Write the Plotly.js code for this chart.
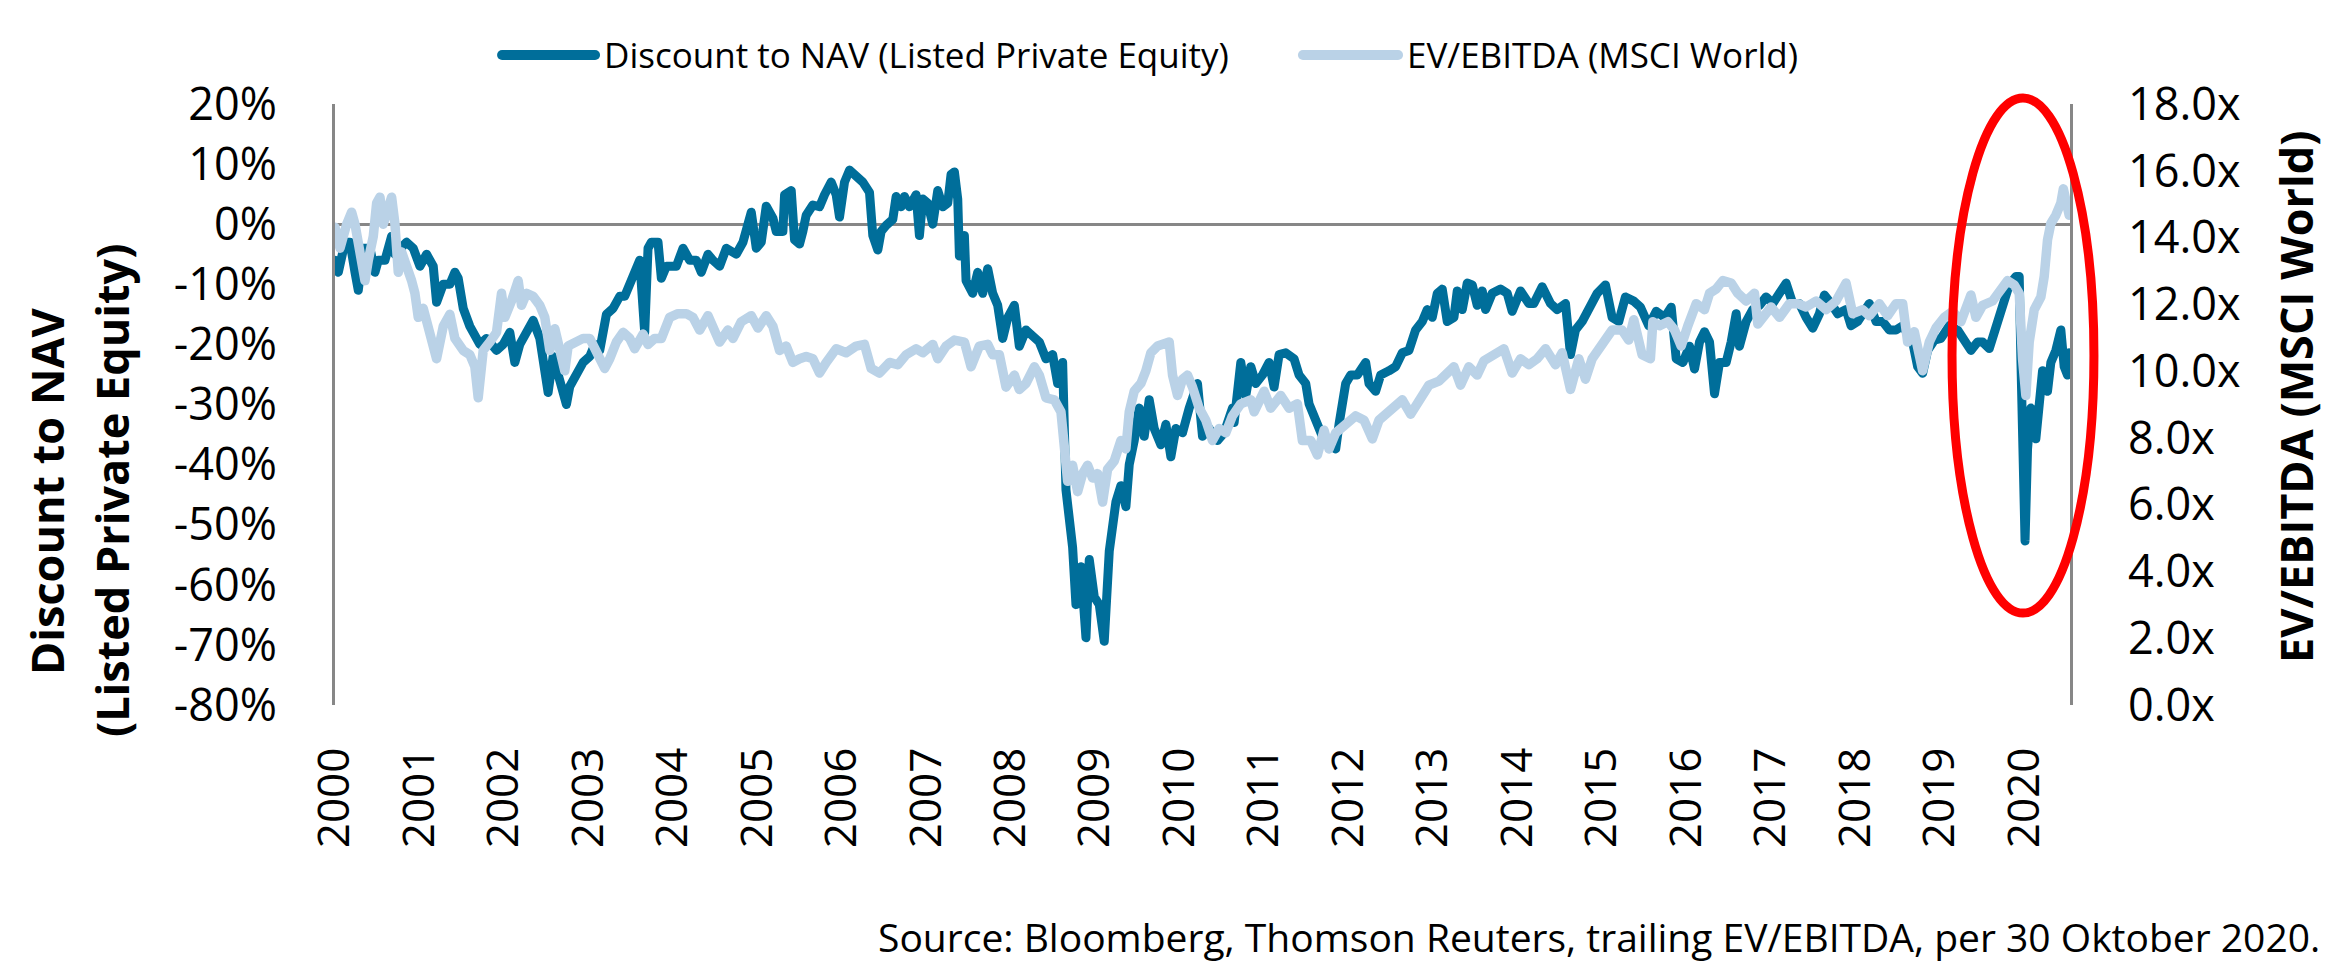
<!DOCTYPE html>
<html>
<head>
<meta charset="utf-8">
<script src="https://cdn.plot.ly/plotly-3.0.1.min.js"></script>
<style>
  html, body { margin: 0; padding: 0; background: #ffffff; }
  #chart { width: 2332px; height: 970px; }
  #chart .scatterlayer path.js-line { stroke-linejoin: round; stroke-linecap: round; }
  #chart .shapelayer path { stroke-linecap: round; }
</style>
</head>
<body>
<div id="chart"></div>
<script>
// ---------- DATA ----------
// Discount to NAV (Listed Private Equity), in %, left axis
const discountDates = [
  2000.00,2000.04,2000.12,2000.18,2000.24,2000.28,2000.34,2000.42,2000.48,2000.52,2000.60,2000.68,2000.72,2000.86,2000.94,
  2001.02,2001.10,2001.18,2001.22,2001.30,2001.38,2001.44,2001.48,2001.54,2001.62,2001.70,2001.74,2001.82,2001.94,
  2002.02,2002.10,2002.16,2002.22,2002.30,2002.38,2002.46,2002.52,2002.56,2002.62,2002.68,2002.74,2002.78,2002.82,2002.90,2002.98,
  2003.06,2003.12,2003.18,2003.26,2003.34,2003.42,2003.48,2003.54,2003.60,2003.66,2003.72,2003.76,2003.80,2003.88,2003.92,2003.98,
  2004.10,2004.18,2004.26,2004.34,2004.40,2004.48,2004.54,2004.62,2004.70,2004.82,2004.90,2005.00,2005.06,2005.12,2005.18,2005.26,
  2005.30,2005.38,2005.40,2005.48,2005.52,2005.58,2005.62,2005.66,2005.74,2005.82,2005.88,2005.96,
  2006.02,2006.06,2006.12,2006.18,2006.26,2006.34,2006.42,2006.46,2006.52,2006.56,2006.62,2006.70,2006.74,2006.80,2006.84,2006.90,2006.98,
  2007.02,2007.06,2007.12,2007.18,2007.24,2007.30,2007.36,2007.40,2007.44,2007.48,2007.50,2007.56,2007.58,2007.66,2007.72,2007.78,2007.84,2007.90,2007.96,
  2008.02,2008.08,2008.16,2008.22,2008.30,2008.38,2008.46,2008.54,2008.62,2008.68,2008.74,2008.78,2008.82,2008.86,2008.90,2008.96,
  2009.02,2009.06,2009.12,2009.18,2009.24,2009.30,2009.38,2009.44,2009.50,2009.54,2009.60,2009.66,2009.72,2009.78,2009.84,2009.92,2009.98,
  2010.04,2010.10,2010.18,2010.26,2010.36,2010.42,2010.50,2010.60,2010.68,2010.78,2010.80,2010.88,2010.94,
  2011.00,2011.06,2011.14,2011.22,2011.28,2011.34,2011.42,2011.52,2011.58,2011.66,2011.70,2011.76,2011.82,2011.88,2011.96,
  2012.02,2012.06,2012.14,2012.20,2012.28,2012.38,2012.42,2012.50,2012.56,2012.66,2012.74,2012.82,2012.90,2012.98,
  2013.06,2013.12,2013.18,2013.24,2013.30,2013.36,2013.44,2013.48,2013.54,2013.60,2013.66,2013.72,2013.78,2013.82,2013.90,
  2014.00,2014.08,2014.14,2014.24,2014.34,2014.40,2014.50,2014.60,2014.68,2014.78,2014.84,2014.90,2014.98,
  2015.06,2015.16,2015.26,2015.34,2015.42,2015.50,2015.60,2015.68,2015.78,
  2015.87,2015.97,2016.05,2016.11,2016.19,2016.27,2016.33,2016.39,2016.45,2016.51,2016.57,2016.63,2016.71,2016.77,2016.83,2016.87,2016.95,
  2017.03,2017.11,2017.19,2017.27,2017.35,2017.43,2017.51,2017.59,2017.67,2017.75,2017.83,2017.89,2017.97,
  2018.05,2018.15,2018.21,2018.29,2018.37,2018.43,2018.51,2018.59,2018.67,2018.75,2018.83,2018.95,
  2019.01,2019.07,2019.13,2019.21,2019.29,2019.39,2019.49,2019.57,2019.65,2019.73,2019.79,2019.87,2019.95,
  2020.03,2020.11,2020.19,2020.23,2020.25,2020.27,2020.30,2020.33,2020.37,2020.43,2020.47,2020.51,2020.57,2020.61,2020.67,2020.73,2020.77,2020.81,2020.83
];
const discountPct = [
  -6,-8,-3,-3,-8,-11,-4,-4,-8,-6,-6,-2,-5,-3,-4,
  -7,-5,-7,-13,-10,-10,-8,-9,-14,-17,-19,-20,-19,-21,
  -20,-18,-23,-20,-18,-16,-19,-25,-28,-22,-25,-29,-30,-27,-25,-23,
  -22,-20,-21,-15,-14,-12,-12,-10,-8,-6,-18,-4,-3,-3,-9,-7,
  -7,-4,-6,-6,-8,-5,-6,-7,-4,-5,-3,2,-4,-3,3,1,
  -1.2,-1.2,4.9,5.6,-2.6,-3.3,-1.2,1.5,3.2,2.9,4.9,7,
  4.9,1.2,7,9,8,7,5.3,-1.9,-4.3,-1.2,-0.2,0.8,4.6,2.9,4.6,2.9,4.9,
  -1.9,4.2,3.5,0,5.6,2.9,3.5,8.3,8.7,4.2,-5.3,-1.9,-9.4,-11.5,-8,-11.5,-7.4,-11.5,-13.5,
  -19,-15.6,-13.5,-20.3,-17.6,-18.6,-19.6,-22.4,-21.7,-26.5,-23,-44.2,-48.3,-53.8,-63.3,-57,
  -68.8,-55.8,-62,-63.3,-69.4,-54.4,-46.2,-43.5,-47,-40,-36,-30.6,-35.3,-29.2,-34,-36.7,-33.3,
  -38.7,-34,-34.7,-30.6,-26.5,-35.3,-34,-36,-34.7,-30.6,-33,-23,-28.5,
  -23.7,-26.5,-25.1,-23,-27.1,-21.7,-21.4,-22.4,-25.1,-26.5,-29.9,-31.9,-34.7,-36,-36.7,
  -37.4,-33.3,-26.5,-25.1,-25.1,-23,-26.5,-27.8,-25.1,-24.4,-23.7,-21.4,-21,-17.6,
  -16.2,-14.2,-15.5,-11.5,-10.8,-16.2,-15.5,-11.1,-14.2,-9.8,-10.1,-13.5,-11.1,-14.2,-11.5,
  -10.8,-11.5,-14.5,-11.1,-13.2,-13.2,-10.4,-13.2,-14.2,-13.2,-21.7,-17.6,-16.2,
  -14.2,-11.5,-10.1,-15.5,-16.2,-12.1,-12.8,-13.8,-16.9,
  -14.5,-15.5,-13.8,-22.4,-23,-20.3,-24.1,-19.6,-17.9,-19.6,-28.2,-23,-23,-19.6,-14.9,-20.3,-16.2,
  -14.2,-13.5,-12.1,-13.2,-11.5,-9.8,-13.2,-13.2,-15.5,-17.3,-14.9,-11.8,-13.2,
  -14.9,-14.2,-16.9,-16.2,-14.5,-13.2,-16.2,-16.2,-17.6,-17.6,-16.9,-19.6,
  -23.7,-24.8,-21,-19.3,-19,-16.9,-17.6,-19.6,-21,-19.6,-19.6,-20.7,-16.9,
  -14.2,-10.1,-8.7,-8.7,-22.4,-37.4,-52.7,-37.4,-30.6,-35.7,-30.6,-24.4,-27.8,-23,-21,-17.6,-23.7,-25.1,-21.4
];

// EV/EBITDA (MSCI World), multiple, right axis
const evDates = [
  2000.00,2000.06,2000.14,2000.20,2000.24,2000.30,2000.36,2000.40,2000.46,2000.50,2000.54,2000.58,2000.64,2000.68,2000.72,2000.76,2000.80,2000.86,2000.92,2000.96,
  2001.00,2001.06,2001.14,2001.22,2001.30,2001.38,2001.44,2001.54,2001.62,2001.68,2001.72,2001.78,2001.86,2001.94,
  2002.00,2002.04,2002.12,2002.20,2002.24,2002.30,2002.38,2002.46,2002.52,2002.58,2002.64,2002.70,2002.76,2002.80,2002.88,2002.98,
  2003.06,2003.14,2003.24,2003.30,2003.38,2003.46,2003.54,2003.60,2003.70,2003.76,2003.84,2003.92,
  2004.02,2004.12,2004.22,2004.30,2004.38,2004.48,2004.54,2004.62,2004.72,2004.78,2004.88,
  2005.00,2005.08,2005.18,2005.26,2005.34,2005.42,2005.50,2005.58,2005.66,2005.74,2005.82,2005.90,
  2006.02,2006.14,2006.26,2006.36,2006.44,2006.54,2006.66,2006.76,2006.86,2006.98,
  2007.06,2007.18,2007.24,2007.34,2007.44,2007.56,2007.64,2007.74,2007.84,2007.90,2007.98,
  2008.06,2008.16,2008.22,2008.30,2008.40,2008.46,2008.54,2008.64,2008.72,2008.76,2008.80,2008.86,2008.92,2008.98,
  2009.04,2009.10,2009.16,2009.22,2009.28,2009.36,2009.44,2009.50,2009.54,2009.60,2009.68,2009.74,2009.80,2009.88,2009.98,
  2010.02,2010.06,2010.12,2010.18,2010.24,2010.30,2010.38,2010.46,2010.54,2010.62,2010.70,2010.78,2010.88,
  2011.00,2011.04,2011.16,2011.24,2011.36,2011.46,2011.56,2011.62,2011.72,2011.80,2011.88,2011.94,
  2012.02,2012.10,2012.18,2012.26,2012.36,2012.46,2012.54,2012.64,2012.74,2012.82,2012.92,
  2013.02,2013.14,2013.26,2013.34,2013.44,2013.52,2013.62,2013.72,2013.80,2013.92,
  2014.04,2014.14,2014.24,2014.34,2014.44,2014.54,2014.66,2014.74,2014.84,2014.94,
  2015.02,2015.10,2015.22,2015.34,2015.46,2015.54,2015.60,2015.70,2015.80,2015.83,2015.91,
  2016.01,2016.09,2016.17,2016.25,2016.35,2016.45,2016.51,2016.59,2016.67,2016.77,2016.85,2016.95,
  2017.05,2017.09,2017.17,2017.25,2017.35,2017.47,2017.57,2017.67,2017.79,2017.91,
  2018.03,2018.15,2018.23,2018.35,2018.43,2018.55,2018.65,2018.75,2018.83,2018.89,2018.97,
  2019.07,2019.15,2019.23,2019.33,2019.43,2019.53,2019.65,2019.71,2019.79,2019.91,
  2020.01,2020.09,2020.17,2020.23,2020.27,2020.31,2020.35,2020.41,2020.49,2020.53,2020.57,2020.61,2020.67,2020.73,2020.76,2020.79,2020.83
];
const evMultiple = [
  14.31,13.68,14.40,14.76,14.40,13.32,12.71,13.32,14.04,15.03,15.21,14.40,15.03,15.21,14.40,12.96,13.57,13.19,12.71,12.33,
  11.61,11.88,11.16,10.37,11.34,11.70,10.98,10.62,10.49,10.13,9.20,10.62,10.87,11.16,
  12.33,11.61,12.10,12.71,11.97,12.33,12.24,11.97,11.61,10.62,11.27,10.62,10.01,10.75,10.87,10.98,
  10.98,10.55,10.08,10.37,10.87,11.16,10.98,10.67,11.11,10.80,10.98,10.98,
  11.61,11.72,11.72,11.61,11.23,11.66,11.29,10.87,11.23,10.98,11.48,
  11.66,11.29,11.66,11.34,10.62,10.75,10.26,10.37,10.44,10.37,9.94,10.26,
  10.67,10.55,10.75,10.80,10.08,9.94,10.26,10.19,10.49,10.67,
  10.55,10.80,10.37,10.75,10.93,10.87,10.13,10.75,10.80,10.49,10.49,
  9.52,9.88,9.45,9.63,10.13,9.88,9.20,9.14,8.78,7.43,6.70,7.18,6.39,6.93,
  7.18,6.80,6.93,6.08,7.06,7.31,7.92,7.67,8.78,9.40,9.63,10.01,10.55,10.75,10.87,
  10.87,9.88,9.27,9.76,9.88,9.52,8.89,8.53,7.92,8.28,8.15,8.66,9.02,
  9.14,8.78,9.40,8.89,9.27,8.89,9.02,7.92,7.92,7.49,8.23,7.67,
  8.15,8.35,8.53,8.66,8.53,7.97,8.53,8.78,9.02,9.14,8.71,
  9.14,9.58,9.70,9.88,10.13,9.58,10.13,9.88,10.31,10.49,
  10.67,9.94,10.37,10.19,10.37,10.67,10.19,10.55,9.45,10.37,
  9.76,10.37,10.80,11.23,11.23,10.93,11.54,10.49,10.37,11.48,11.36,
  11.48,11.23,10.75,11.36,12.02,11.84,12.33,12.46,12.71,12.64,12.33,12.10,
  12.33,11.41,11.66,11.92,11.61,12.02,12.02,11.92,12.10,11.84,
  12.10,12.64,11.72,11.84,11.66,12.02,11.66,12.02,12.02,10.87,11.18,
  10.01,10.87,11.29,11.61,11.79,11.48,12.28,11.61,11.97,12.10,
  12.46,12.71,12.58,12.33,10.37,9.27,10.87,11.84,12.22,12.83,13.93,14.42,14.67,15.03,15.46,14.92,14.67
];

// Tick labels
const yearLabels = ['2000','2001','2002','2003','2004','2005','2006','2007','2008','2009','2010',
                    '2011','2012','2013','2014','2015','2016','2017','2018','2019','2020'];
const leftTicks = [20,10,0,-10,-20,-30,-40,-50,-60,-70,-80];
const rightTicks = [0,2,4,6,8,10,12,14,16,18];

const seriesNames = ['Discount to NAV (Listed Private Equity)', 'EV/EBITDA (MSCI World)'];
const leftTitle = ['Discount to NAV', '(Listed Private Equity)'];
const rightTitle = 'EV/EBITDA (MSCI World)';
const sourceNote = 'Source: Bloomberg, Thomson Reuters, trailing EV/EBITDA, per 30 Oktober 2020.';

// ---------- STYLE ----------
const DARK = '#006E9A';
const LIGHT = '#BAD2E7';
const GRAY = '#878787';
const FONT = 'Open Sans, Noto Sans, sans-serif';
const LABEL_STEP = 1.0145;   // spacing of the year labels along the axis (in years)

const tickPos = yearLabels.map((_, i) => 2000 + i * LABEL_STEP);

const traces = [
  {
    x: discountDates, y: discountPct, type: 'scatter', mode: 'lines',
    name: seriesNames[0], yaxis: 'y',
    line: { color: DARK, width: 9 }, showlegend: false, hoverinfo: 'skip'
  },
  {
    x: evDates, y: evMultiple, type: 'scatter', mode: 'lines',
    name: seriesNames[1], yaxis: 'y2',
    line: { color: LIGHT, width: 9.5 }, showlegend: false, hoverinfo: 'skip'
  }
];

const layout = {
  width: 2332, height: 970,
  margin: { l: 335, r: 262, t: 104, b: 265, pad: 0 },
  paper_bgcolor: '#ffffff', plot_bgcolor: '#ffffff',
  font: { family: FONT, color: '#000000' },
  showlegend: false,
  xaxis: {
    type: 'linear', range: [2000, 2020.84],
    tickmode: 'array', tickvals: tickPos, ticktext: yearLabels,
    tickangle: -90, tickfont: { size: 44, family: FONT, color: '#000' },
    ticks: 'outside', ticklen: 24, tickcolor: 'rgba(0,0,0,0)',
    showgrid: false, zeroline: false, showline: false, fixedrange: true
  },
  yaxis: {
    range: [-80, 20], tickmode: 'array', tickvals: leftTicks,
    ticktext: leftTicks.map(v => v + '%'),
    tickfont: { size: 45, family: FONT, color: '#000' },
    ticks: 'outside', ticklen: 46, tickcolor: 'rgba(0,0,0,0)',
    showgrid: false, showline: true, linecolor: GRAY, linewidth: 3,
    zeroline: true, zerolinecolor: GRAY, zerolinewidth: 3, fixedrange: true
  },
  yaxis2: {
    overlaying: 'y', side: 'right', range: [0, 18],
    tickmode: 'array', tickvals: rightTicks,
    ticktext: rightTicks.map(v => v.toFixed(1) + 'x'),
    tickfont: { size: 45, family: FONT, color: '#000' },
    ticks: 'outside', ticklen: 46, tickcolor: 'rgba(0,0,0,0)',
    showgrid: false, showline: true, linecolor: GRAY, linewidth: 3,
    zeroline: false, fixedrange: true
  },
  shapes: [
    // legend swatches
    { type: 'line', xref: 'paper', yref: 'paper', x0: 0.0963, x1: 0.1499, y0: 1.0815, y1: 1.0815,
      line: { color: DARK, width: 10 } },
    { type: 'line', xref: 'paper', yref: 'paper', x0: 0.5579, x1: 0.6127, y0: 1.0815, y1: 1.0815,
      line: { color: LIGHT, width: 10 } },
    // red highlight ellipse
    { type: 'circle', xref: 'paper', yref: 'paper', x0: 0.932, x1: 1.0138, y0: 0.153, y1: 1.010,
      line: { color: '#FF0000', width: 9 }, layer: 'above' }
  ],
  annotations: [
    { xref: 'paper', yref: 'paper', x: 0.1539, y: 1.083, xanchor: 'left', yanchor: 'middle',
      text: seriesNames[0], showarrow: false, font: { size: 35, family: FONT, color: '#000' } },
    { xref: 'paper', yref: 'paper', x: 0.6167, y: 1.083, xanchor: 'left', yanchor: 'middle',
      text: seriesNames[1], showarrow: false, font: { size: 35, family: FONT, color: '#000' } },
    { xref: 'paper', yref: 'paper', x: -0.1666, y: 0.356, xanchor: 'center', yanchor: 'middle',
      textangle: -90, text: '<b>' + leftTitle[0] + '</b>', showarrow: false,
      font: { size: 45, family: FONT, color: '#000' } },
    { xref: 'paper', yref: 'paper', x: -0.1291, y: 0.356, xanchor: 'center', yanchor: 'middle',
      textangle: -90, text: '<b>' + leftTitle[1] + '</b>', showarrow: false,
      font: { size: 45, family: FONT, color: '#000' } },
    { xref: 'paper', yref: 'paper', x: 1.1303, y: 0.5125, xanchor: 'center', yanchor: 'middle',
      textangle: -90, text: '<b>' + rightTitle + '</b>', showarrow: false,
      font: { size: 45, family: FONT, color: '#000' } },
    { xref: 'paper', yref: 'paper', x: 1.1452, y: -0.386, xanchor: 'right', yanchor: 'middle',
      text: sourceNote, showarrow: false, font: { size: 39, family: FONT, color: '#000' } }
  ]
};

Plotly.newPlot('chart', traces, layout, { displayModeBar: false, staticPlot: true });
</script>
</body>
</html>
